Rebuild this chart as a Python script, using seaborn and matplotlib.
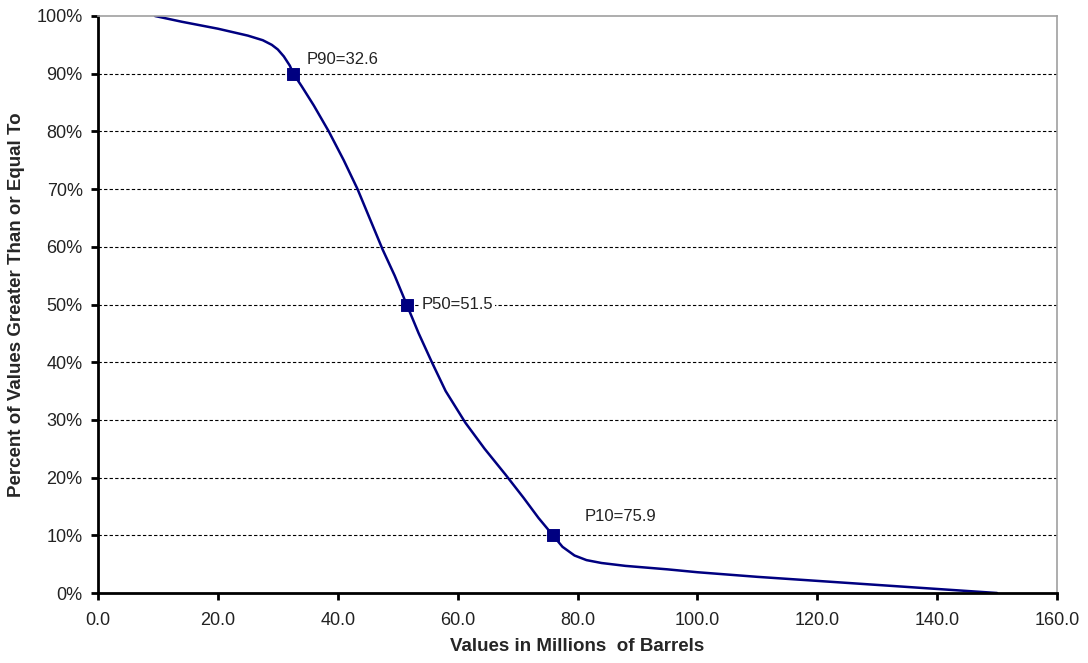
import numpy as np
import matplotlib.pyplot as plt
import seaborn as sns
import pandas as pd
from matplotlib.ticker import FuncFormatter, MultipleLocator

# curva de excedencia
valores = [9.5, 14.0, 20.0, 25.0, 27.5, 29.0, 30.0, 31.0, 32.0, 32.6, 34.0, 36.0, 38.5,
           41.0, 43.3, 45.5, 47.5, 49.5, 51.5, 53.5, 55.7, 58.0, 61.3, 64.5,
           68.0, 71.0, 73.5, 75.9, 77.5, 79.5, 81.5, 84.0, 88.0, 95.0, 100.0,
           110.0, 120.0, 130.0, 140.0, 150.0]
porcentaje = [100.0, 99.0, 97.8, 96.6, 95.8, 95.0, 94.2, 93.0, 91.4, 90.0, 87.8, 84.5, 80.0,
              75.0, 70.0, 64.5, 59.5, 55.0, 50.0, 45.0, 40.0, 35.0, 29.5, 25.0,
              20.5, 16.5, 13.0, 10.0, 8.0, 6.5, 5.7, 5.2, 4.7, 4.1, 3.6,
              2.8, 2.1, 1.4, 0.7, 0.0]

etiquetas = ["P90=32.6", "P50=51.5", "P10=75.9"]
p_valores = [32.6, 51.5, 75.9]
p_porcentaje = [90, 50, 10]

df = pd.DataFrame({"Valor": valores, "Pct": porcentaje})
dfp = pd.DataFrame({"Valor": p_valores, "Pct": p_porcentaje, "Etiqueta": etiquetas})

sns.set_style("white")
plt.rcParams['font.family'] = ['Liberation Sans', 'DejaVu Sans']

fig = plt.figure(figsize=(10.88, 6.63), dpi=100)
ax = fig.add_axes([98 / 1088, 1 - 593 / 663, (1057 - 98) / 1088, (593 - 16) / 663])

sns.lineplot(data=df, x="Valor", y="Pct", color="#000080", linewidth=1.8, sort=False, ax=ax)
sns.scatterplot(data=dfp, x="Valor", y="Pct", marker="s", s=70, color="#000080",
                edgecolor="#000080", zorder=5, ax=ax)

desplaz = {"P90=32.6": (2.2, 2.5, None), "P50=51.5": (2.5, 0, "white"), "P10=75.9": (5.3, 3.3, None)}
for _, fila in dfp.iterrows():
    dx, dy, fondo = desplaz[fila["Etiqueta"]]
    kw = {}
    if fondo:
        kw["bbox"] = dict(facecolor="white", edgecolor="none", pad=1)
    ax.text(fila["Valor"] + dx, fila["Pct"] + dy, fila["Etiqueta"], fontsize=12,
            color="#222222", va="center", ha="left", zorder=6, **kw)

ax.set_xlim(0, 160)
ax.set_ylim(0, 100)
ax.xaxis.set_major_locator(MultipleLocator(20))
ax.yaxis.set_major_locator(MultipleLocator(10))
ax.xaxis.set_major_formatter(FuncFormatter(lambda v, p: f"{v:.1f}"))
ax.yaxis.set_major_formatter(FuncFormatter(lambda v, p: f"{v:.0f}%"))

for y in range(10, 100, 10):
    ax.axhline(y, color="black", linestyle=(0, (3, 2)), linewidth=0.8, zorder=1)

for lado in ["left", "bottom"]:
    ax.spines[lado].set_color("black")
    ax.spines[lado].set_linewidth(2)
for lado in ["top", "right"]:
    ax.spines[lado].set_color("#a0a0a0")
    ax.spines[lado].set_linewidth(1.2)

ax.tick_params(axis="both", direction="out", length=5, width=2, color="black",
               labelsize=13, labelcolor="#222222", left=True, bottom=True)
ax.tick_params(axis="x", pad=9)
ax.tick_params(axis="y", pad=6)

ax.set_xlabel("Values in Millions  of Barrels", fontsize=13.5, fontweight="bold", labelpad=6)
ax.set_ylabel("Percent of Values Greater Than or Equal To", fontsize=13.5, fontweight="bold", labelpad=8)

plt.savefig("out.png", dpi=100)
plt.close()
